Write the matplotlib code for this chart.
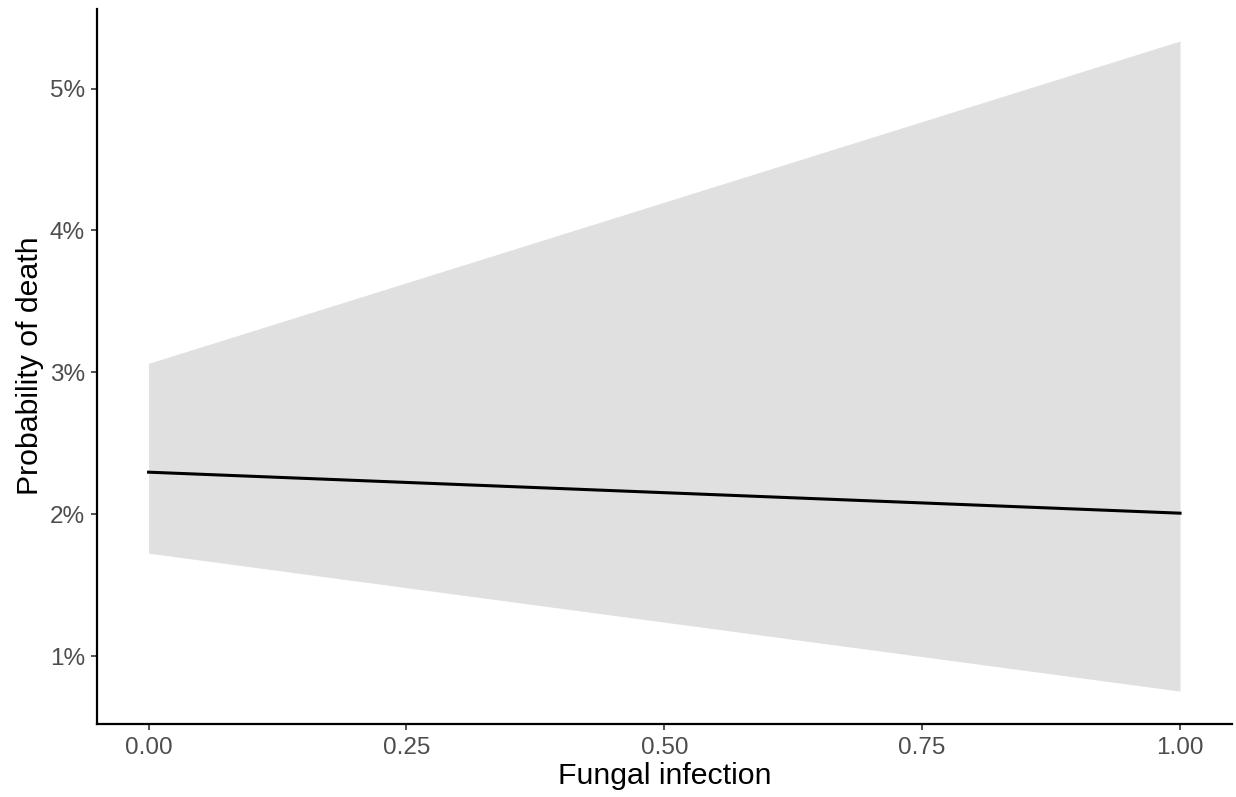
import matplotlib
matplotlib.use("Agg")
import matplotlib.pyplot as plt
from matplotlib.ticker import FuncFormatter

# Data (probabilities in %)
fungal = [0.0, 1.0]
predicted = [2.296, 2.007]
conf_low = [1.725, 0.753]
conf_high = [3.063, 5.335]

x_ticks = [0.0, 0.25, 0.50, 0.75, 1.00]
y_ticks = [1, 2, 3, 4, 5]

plt.rcParams['font.family'] = ['Liberation Sans', 'DejaVu Sans']

fig = plt.figure(figsize=(12.36, 7.97), dpi=100)
ax = fig.add_axes([97/1236, 73.4/797, (1231.6-97)/1236, (788.5-73.4)/797])

ax.fill_between(fungal, conf_low, conf_high, color='#E0E0E0', linewidth=0, zorder=1)
ax.plot(fungal, predicted, color='black', linewidth=2.2, zorder=2)

ax.set_xlim(-0.05, 1.05)
ylo = min(conf_low); yhi = max(conf_high)
pad = (yhi - ylo) * 0.05
ax.set_ylim(ylo - pad, yhi + pad)

ax.set_xticks(x_ticks)
ax.set_xticklabels([f"{v:.2f}" for v in x_ticks])
ax.set_yticks(y_ticks)
ax.yaxis.set_major_formatter(FuncFormatter(lambda v, p: f"{int(round(v))}%"))

for s in ['top', 'right']:
    ax.spines[s].set_visible(False)
for s in ['left', 'bottom']:
    ax.spines[s].set_linewidth(1.6)
    ax.spines[s].set_color('black')

ax.tick_params(axis='both', which='major', length=4.3, width=1.2, color='#333333',
               labelsize=17.5, labelcolor='#4D4D4D')
ax.tick_params(axis='x', pad=5.5)
ax.tick_params(axis='y', pad=4.5)

ax.set_xlabel('Fungal infection', fontsize=21.8, color='black', labelpad=2)
ax.set_ylabel('Probability of death', fontsize=21.8, color='black', labelpad=4)

fig.savefig('out.png', dpi=100)
